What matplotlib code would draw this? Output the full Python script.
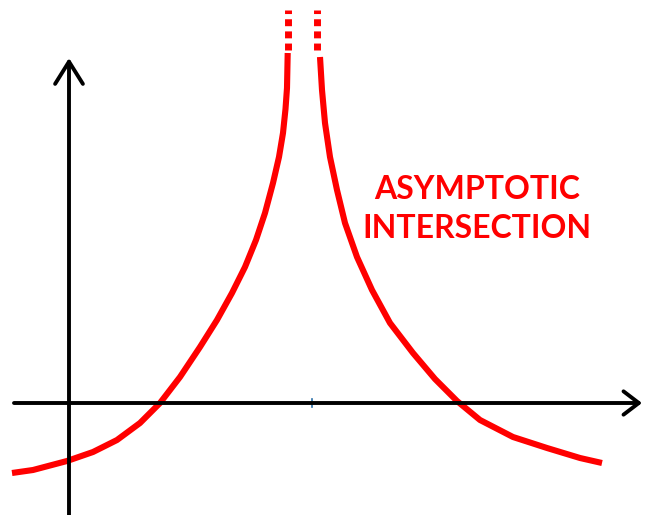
import numpy as np
import matplotlib.pyplot as plt

# curve branches on either side of the vertical asymptote (x axis at y=0, y axis at x=0)
left_x = [-56, -35, -1, 25, 49, 72, 92, 112, 132, 149, 164, 177, 188, 197,
          205, 211, 215, 217.5, 219, 219.7]
left_y = [-70, -67, -58, -49, -37, -20, 0, 26, 56, 83, 110, 136, 163, 190,
          220, 246, 270, 294, 315, 350]
right_x = [252, 254, 257, 262, 269, 277, 289, 304, 322, 345, 367, 389, 412,
           445, 479, 512, 534]
right_y = [346, 313, 280, 246, 213, 180, 146, 113, 80, 50, 24, 2, -17,
           -34, -45, -55, -60]

# dotted continuation towards infinity
left_dash_x = [220, 220]
right_dash_x = [249, 249]
dash_y = [353, 393]

label = "ASYMPTOTIC\nINTERSECTION"
red = "#ff0000"

fig = plt.figure(figsize=(6.46, 5.15), dpi=100)
ax = fig.add_axes([0, 0, 1, 1])
ax.set_xlim(-68, 578)
ax.set_ylim(-112, 403)
ax.axis("off")

# coordinate axes with open arrowheads
ax.annotate("", xy=(574, 0), xytext=(-54, 0),
            arrowprops=dict(arrowstyle="->,head_length=0.55,head_width=0.42",
                            color="black", lw=2.8, shrinkA=0, shrinkB=0,
                            mutation_scale=20))
ax.annotate("", xy=(1, 345), xytext=(1, -115),
            arrowprops=dict(arrowstyle="->,head_length=0.8,head_width=0.5",
                            color="black", lw=2.8, shrinkA=0, shrinkB=0,
                            mutation_scale=20))
ax.plot([244, 244], [-4, 4], color="#2a6fa8", lw=1.2)

ax.plot(left_x, left_y, color=red, lw=4.4, solid_capstyle="butt",
        solid_joinstyle="round")
ax.plot(right_x, right_y, color=red, lw=4.4, solid_capstyle="butt",
        solid_joinstyle="round")
for dx in (left_dash_x, right_dash_x):
    ax.plot(dx, dash_y, color=red, lw=5.0, linestyle=(0, (1.0, 0.75)),
            dash_capstyle="butt")

ax.text(409, 194, label, color=red, fontsize=23, fontweight="bold",
        family="Lato", ha="center", va="center", linespacing=1.4)

fig.savefig("out.png", dpi=100)
